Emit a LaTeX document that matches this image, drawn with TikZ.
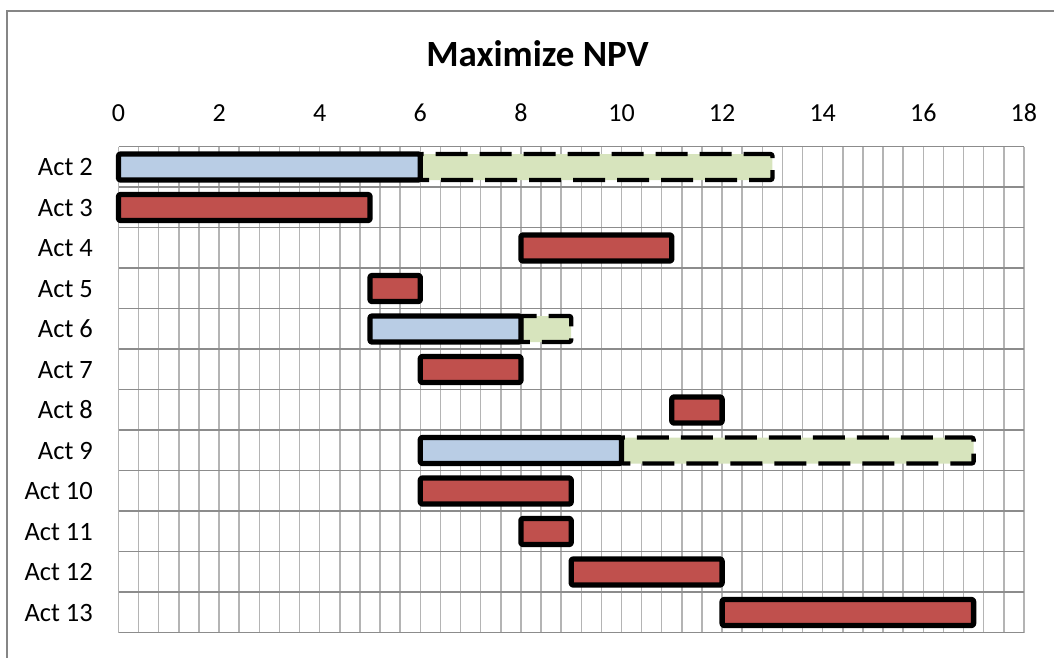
\documentclass[tikz,border=0pt]{standalone}
\usepackage{fontspec}
\setmainfont{Carlito}
\definecolor{framegray}{HTML}{868686}
\definecolor{majorgrid}{HTML}{8C8C8C}
\definecolor{minorgrid}{HTML}{B4B4B4}
\definecolor{barblue}{HTML}{B9CDE5}
\definecolor{bargreen}{HTML}{D7E4BD}
\definecolor{barred}{HTML}{C0504D}
\tikzset{
  taskbar/.style={draw=black, line width=5.3pt, rounded corners=2pt, line join=round},
  redbar/.style={taskbar, fill=barred},
  bluebar/.style={taskbar, fill=barblue},
  slackbar/.style={draw=black, fill=bargreen, line width=4.3pt, dash pattern=on 32pt off 12pt, rounded corners=2pt},
  rowlabel/.style={anchor=base east, font=\fontsize{26.5}{30}\selectfont, inner sep=0pt},
  ticklabel/.style={anchor=base, font=\fontsize{26}{30}\selectfont, inner sep=0pt},
  charttitle/.style={anchor=base, font=\fontsize{37}{42}\selectfont\bfseries, inner sep=0pt}
}
% time t -> horizontal position, row r -> centre line
\newcommand\tx[1]{118.5+50.3*(#1)}
\newcommand\ry[1]{167+40.5*(#1)}
% \gbar{style}{row}{start}{end}
\newcommand\gbar[4]{\path[#1] ({\tx{#3}},{\ry{#2}-13}) rectangle ({\tx{#4}},{\ry{#2}+13});}
\begin{document}
\begin{tikzpicture}[x=1pt,y=-1pt]
\useasboundingbox (0,0) rectangle (1054,657);
% chart frame
\draw[framegray, line width=1.5pt] (7,670) -- (7,11) -- (1070,11);
% title
\node[charttitle] (title) at (537.5,66.7) {Maximize NPV};
% minor vertical grid every 0.4
\foreach \i in {0,...,45}
  \draw[minorgrid, line width=1.5pt] ({118.5+20.12*\i},146.7) -- ({118.5+20.12*\i},632.7);
% row separators
\foreach \j in {0,...,12}
  \draw[majorgrid, line width=1.5pt] (118.5,{146.7+40.5*\j}) -- (1024,{146.7+40.5*\j});
% axis labels
\foreach \k in {0,2,...,18}
  \node[ticklabel] (tick\k) at ({\tx{\k}},121.7) {\k};
% row labels
\foreach \n [count=\r from 0] in {2,...,13}
  \node[rowlabel] (act\n) at (93,{\ry{\r}+8.7}) {Act \n};
% slack (dashed) bars
\gbar{slackbar}{0}{6}{13}
\gbar{slackbar}{4}{8}{9}
\gbar{slackbar}{7}{10}{17}
% scheduled bars
\gbar{bluebar}{0}{0}{6}
\gbar{redbar}{1}{0}{5}
\gbar{redbar}{2}{8}{11}
\gbar{redbar}{3}{5}{6}
\gbar{bluebar}{4}{5}{8}
\gbar{redbar}{5}{6}{8}
\gbar{redbar}{6}{11}{12}
\gbar{bluebar}{7}{6}{10}
\gbar{redbar}{8}{6}{9}
\gbar{redbar}{9}{8}{9}
\gbar{redbar}{10}{9}{12}
\gbar{redbar}{11}{12}{17}
\end{tikzpicture}
\end{document}
